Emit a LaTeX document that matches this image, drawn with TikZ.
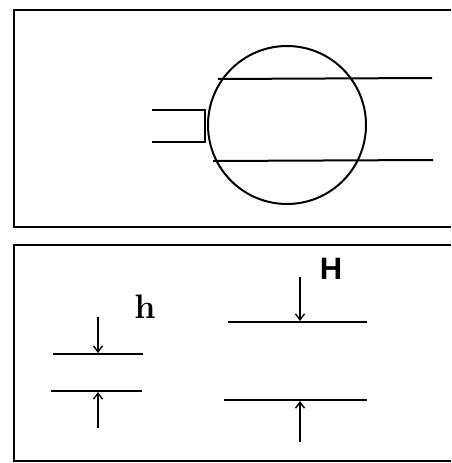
\documentclass[tikz,border=0pt]{standalone}
\usepackage{fontspec}
\usetikzlibrary{arrows.meta, positioning, calc}
\newfontfamily\labelsans{Liberation Sans}

\begin{document}
\begin{tikzpicture}[x=1pt, y=-1pt, >={Straight Barb[length=6pt, width=9pt]}, line width=2pt]
        \useasboundingbox (0,0) rectangle (451,463);

        \draw[line width=2.2pt] (451,10) -- (14,10) -- (14,227) -- (451,227);
        \draw[line width=2.2pt] (451,245) -- (14,245) -- (14,461) -- (451,461);

        \node[circle, draw, minimum size=158pt, inner sep=0pt] (ball) at (287,125) {};

        \coordinate (chordA) at (218,79);
        \coordinate (chordAend) at (432,78);
        \coordinate (chordB) at (213,161);
        \coordinate (chordBend) at (433,160);
        \draw (chordA) -- (chordAend);
        \draw (chordB) -- (chordBend);

        \coordinate (stubA) at (152,110);
        \coordinate (stubB) at (152,142);
        \coordinate (stubAend) at (205,110);
        \coordinate (stubBend) at (205,142);
        \draw (stubA) -- (stubAend) -- (stubBend) -- (stubB);

        \coordinate (smallA) at (53,354);
        \coordinate (smallAend) at (143,354);
        \coordinate (smallB) at (51,391);
        \coordinate (smallBend) at (142,391);
        \draw (smallA) -- (smallAend);
        \draw (smallB) -- (smallBend);
        \coordinate (smallTop) at (98,317);
        \coordinate (smallBot) at (98,428);
        \draw[->, line width=1.4pt] (smallTop) -- (98,353);
        \draw[->, line width=1.4pt] (smallBot) -- (98,392);
        \node[font=\bfseries\fontsize{34}{34}\selectfont, inner sep=0pt, anchor=base] (hlabel) at (145,318) {h};

        \coordinate (bigA) at (228,322);
        \coordinate (bigAend) at (367,322);
        \coordinate (bigB) at (224,400);
        \coordinate (bigBend) at (367,400);
        \draw (bigA) -- (bigAend);
        \draw (bigB) -- (bigBend);
        \coordinate (bigTop) at (300,277);
        \coordinate (bigBot) at (300,442);
        \draw[->, line width=1.4pt] (bigTop) -- (300,321);
        \draw[->, line width=1.4pt] (bigBot) -- (300,401);
        \node[font=\labelsans\bfseries\fontsize{31}{31}\selectfont, inner sep=0pt, anchor=base] (Hlabel) at (331,279) {H};

      \end{tikzpicture}
\end{document}
